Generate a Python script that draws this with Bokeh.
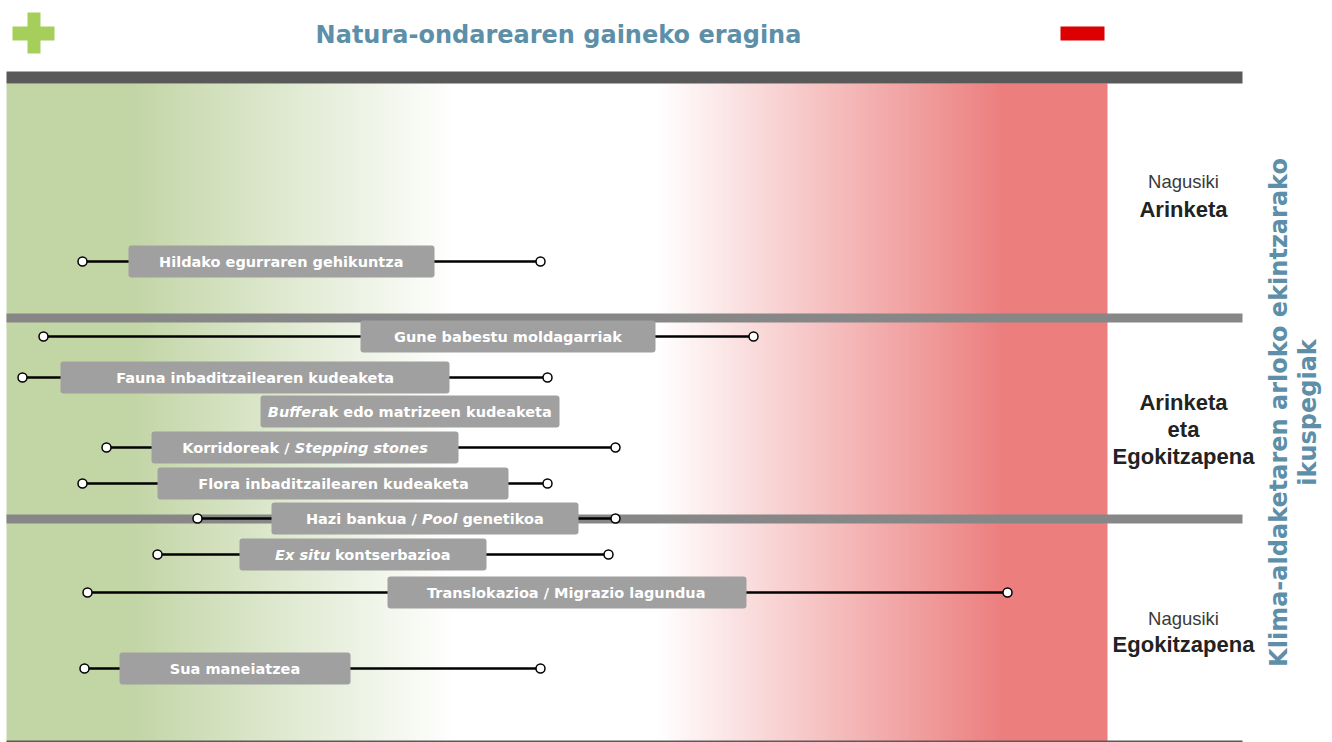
import numpy as np
from bokeh.plotting import figure
from bokeh.models import Range1d, ColumnDataSource
from bokeh.embed import file_html
from bokeh.resources import INLINE
from bokeh.core.properties import value

# ---------------- data ----------------
title = "Natura-ondarearen gaineko eragina"
side_title = ["Klima-aldaketaren arloko ekintzarako", "ikuspegiak"]

# label of each action, split into (text, italic) segments
actions = [
    [("Hildako egurraren gehikuntza", False)],
    [("Gune babestu moldagarriak", False)],
    [("Fauna inbaditzailearen kudeaketa", False)],
    [("Buffer", True), ("ak edo matrizeen kudeaketa", False)],
    [("Korridoreak / ", False), ("Stepping stones", True)],
    [("Flora inbaditzailearen kudeaketa", False)],
    [("Hazi bankua / ", False), ("Pool", True), (" genetikoa", False)],
    [("Ex situ", True), (" kontserbazioa", False)],
    [("Translokazioa / Migrazio lagundua", False)],
    [("Sua maneiatzea", False)],
]
row_pos = [261, 336, 377, 411, 447, 483, 518, 554, 592, 668]
impact_low = [82, 43, 22, None, 106, 82, 197, 157, 87, 84]
impact_high = [540, 753, 547, None, 615, 547, 615, 608, 1007, 540]
box_low = [128, 360, 60, 260, 151, 157, 271, 239, 387, 119]
box_high = [434, 655, 449, 559, 458, 508, 578, 486, 746, 350]

group_separators = [317.5, 518.5]
group_labels = [
    [("Nagusiki", False, 181), ("Arinketa", True, 209)],
    [("Arinketa", True, 402), ("eta", True, 429), ("Egokitzapena", True, 456)],
    [("Nagusiki", False, 618), ("Egokitzapena", True, 644)],
]

# ---------------- figure ----------------
p = figure(width=1332, height=742, x_range=Range1d(0, 1332), y_range=Range1d(742, 0),
           output_backend="svg", toolbar_location=None, min_border=0,
           x_axis_location=None, y_axis_location=None)
p.grid.visible = False
p.outline_line_color = None
p.background_fill_color = "white"
p.border_fill_color = "white"

BAND_L, BAND_R, BAND_T, BAND_B = 6, 1107, 83, 741
GREEN = np.array([0xc2, 0xd5, 0xa5], float)
RED = np.array([0xec, 0x7f, 0x7f], float)
WHITE = np.array([255, 255, 255], float)


def band_color(x):
    if x <= 130:
        c = GREEN
    elif x < 455:
        t = (x - 130) / (455 - 130)
        c = GREEN + (WHITE - GREEN) * t
    elif x < 657:
        c = WHITE
    elif x < 1000:
        t = (x - 657) / (1000 - 657)
        c = WHITE + (RED - WHITE) * t
    else:
        c = RED
    return "#%02x%02x%02x" % tuple(int(round(v)) for v in c)


xs = np.arange(BAND_L, BAND_R, 1.0)
rights = np.minimum(xs + 1.5, BAND_R)
cols = [band_color(x + 0.5) for x in xs]
p.quad(left=xs, right=rights, top=BAND_T, bottom=BAND_B, fill_color=cols, line_color=None)

# header bar, separators and bottom line
p.quad(left=[6], right=[1242], top=[71], bottom=[83], fill_color="#595959", line_color=None)
p.quad(left=[6] * len(group_separators), right=[1242] * len(group_separators),
       top=[s - 4.5 for s in group_separators], bottom=[s + 4.5 for s in group_separators],
       fill_color="#878787", line_color=None)
p.quad(left=[6], right=[1242], top=[740], bottom=[742], fill_color="#5a5a5a", line_color=None)

# plus and minus signs
p.quad(left=[27, 12], right=[40, 54], top=[12, 26], bottom=[53, 40], fill_color="#a5cf5a", line_color=None)
p.quad(left=[1060], right=[1104], top=[26], bottom=[40], fill_color="#dc0000", line_color=None)

# whiskers
wl = [(lo, hi, y) for lo, hi, y in zip(impact_low, impact_high, row_pos) if lo is not None]
p.segment(x0=[w[0] for w in wl], x1=[w[1] for w in wl], y0=[w[2] for w in wl], y1=[w[2] for w in wl],
          line_color="black", line_width=2.6)

# boxes
p.quad(left=box_low, right=box_high, top=[y - 16 for y in row_pos], bottom=[y + 16 for y in row_pos],
       fill_color="#a0a0a0", line_color=None, border_radius=3)

# end points
p.scatter(x=[w[0] for w in wl] + [w[1] for w in wl], y=[w[2] for w in wl] * 2, size=9,
          fill_color="white", line_color="black", line_width=1.5)

# label text, with italic segments
W = {' ': .348, '/': .364, 'a': .675, 'b': .716, 'c': .593, 'd': .716, 'e': .678, 'f': .435,
     'g': .716, 'h': .712, 'i': .343, 'k': .665, 'l': .343, 'm': 1.042, 'n': .712, 'o': .687,
     'p': .716, 'r': .493, 's': .595, 't': .478, 'u': .712, 'x': .631, 'z': .582, 'B': .765,
     'E': .683, 'K': .774, 'P': .733, 'S': .721, 'F': .575, 'G': .818, 'H': .837, 'T': .682,
     'M': .995}
FS = 14.5


def tw(s):
    return sum(W.get(ch, 0.65) for ch in s) * FS


norm = dict(x=[], y=[], t=[])
ital = dict(x=[], y=[], t=[])
for segs, y, lo, hi in zip(actions, row_pos, box_low, box_high):
    total = sum(tw(s) for s, _ in segs)
    x = (lo + hi) / 2 - total / 2
    for s, it in segs:
        lead = len(s) - len(s.lstrip(' '))
        d = ital if it else norm
        d["x"].append(x + lead * W[' '] * FS)
        d["y"].append(y + 0.5)
        d["t"].append(s.strip())
        x += tw(s)

p.text(x="x", y="y", text="t", source=ColumnDataSource(norm), text_align="left", text_baseline="middle",
       text_font=value("DejaVu Sans"), text_font_style="bold", text_font_size="14.5px", text_color="white")
p.text(x="x", y="y", text="t", source=ColumnDataSource(ital), text_align="left", text_baseline="middle",
       text_font=value("DejaVu Sans"), text_font_style="bold italic", text_font_size="14.5px",
       text_color="white")

# titles
p.text(x=[558], y=[34], text=[title], text_align="center", text_baseline="middle",
       text_font=value("DejaVu Sans"), text_font_style="bold", text_font_size="24px", text_color="#5d8fa8")
p.text(x=[1278, 1307], y=[412, 412], text=side_title, angle=np.pi / 2, text_align="center",
       text_baseline="middle", text_font=value("DejaVu Sans"), text_font_style="bold",
       text_font_size="24px", text_color="#5d8fa8")

# group labels
for grp in group_labels:
    for s, bold, y in grp:
        p.text(x=[1183], y=[y], text=[s], text_align="center", text_baseline="middle",
               text_font=value("Liberation Sans"), text_font_style="bold" if bold else "normal",
               text_font_size="22px" if bold else "18.5px", text_color="#222222" if bold else "#3a3a3a")

open("out.html", "w").write(file_html(p, INLINE))
